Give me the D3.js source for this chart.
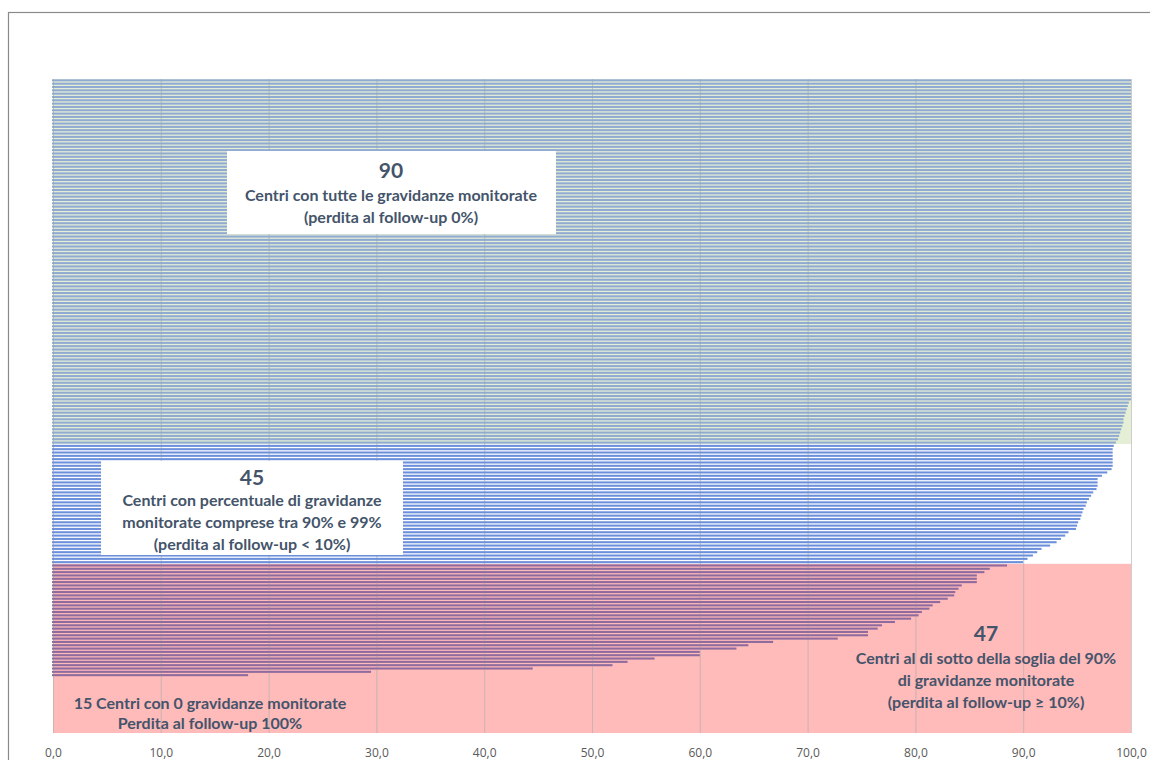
<!DOCTYPE html>
<html><head><meta charset="utf-8">
<script src="https://cdn.jsdelivr.net/npm/d3@7"></script>
<style>html,body{margin:0;padding:0;background:#fff;}svg{display:block;}</style>
</head><body>
<svg id="c" width="1150" height="760"></svg>
<script>
// ---- data (percent of pregnancies monitored per centre, sorted top to bottom) ----
const fullCount = 97;                       // centres drawn at 100%
const greenTail = [99.8, 99.7, 99.6, 99.5, 99.4, 99.3, 99.3, 99.2, 99.1, 99.0, 98.9, 98.8, 98.6];
const midValues = [98.4, 98.3, 98.3, 98.3, 98.3, 98.3, 98.3, 98.2, 97.8, 97.3, 96.9, 96.9, 96.9, 96.8,
                   96.5, 96.3, 96.1, 95.9, 95.8, 95.6, 95.5, 95.4, 95.3, 95.1, 95.0, 94.9, 94.2, 93.9,
                   93.5, 93.1, 92.5, 91.7, 91.3, 90.9, 90.4, 90.0];
const lowValues = [88.5, 86.9, 86.4, 85.7, 85.7, 85.7, 84.3, 84.0, 83.7, 83.6, 83.0, 82.3, 81.6, 81.3,
                   80.6, 80.3, 79.6, 78.1, 76.9, 76.5, 75.6, 75.6, 72.8, 66.8, 64.5, 63.4, 60.0, 60.0,
                   55.8, 53.3, 51.9, 44.5, 29.5, 18.1];
const zeroCount = 17;                       // centres with 0%
const xTicks = [0, 10, 20, 30, 40, 50, 60, 70, 80, 90, 100];
const greenLimit = 98.5, redLimit = 90;

const values = [].concat(
  Array.from({length: fullCount}, () => 100),
  greenTail, midValues, lowValues,
  Array.from({length: zeroCount}, () => 0)
);
const rows = values.map((v, i) => ({id: i, v,
  band: v >= greenLimit ? "g" : (v >= redLimit ? "w" : "r")}));

// ---- layout ----
const svg = d3.select("#c");
const L = 53, R = 1131, T = 79, B = 733;
const x = d3.scaleLinear().domain([0, 100]).range([L, R]);
const y = d3.scaleBand().domain(rows.map(d => d.id)).range([T, B]).paddingInner(0.38).paddingOuter(0.1);
const step = y.step();

// frame
svg.append("rect").attr("x", 8.5).attr("y", 12.5).attr("width", 1160).attr("height", 760)
  .attr("fill", "#fff").attr("stroke", "#8a8a8a").attr("stroke-width", 1.2);

// background bands
const bandFill = {g: "#e5efd6", w: "#ffffff", r: "#ffbaba"};
const groups = d3.groups(rows, d => d.band);
groups.forEach(([k, arr]) => {
  const first = arr[0].id, last = arr[arr.length - 1].id;
  let y0 = y(first) - step * y.paddingInner() / 2;
  let y1 = y(last) + y.bandwidth() + step * y.paddingInner() / 2;
  if (first === 0) y0 = T;
  if (last === rows.length - 1) y1 = B;
  svg.append("rect").attr("x", L).attr("y", y0).attr("width", R - L).attr("height", y1 - y0)
    .attr("fill", bandFill[k]);
});

// gridlines
svg.append("g").selectAll("line").data(xTicks).join("line")
  .attr("x1", d => x(d) + 0.5).attr("x2", d => x(d) + 0.5)
  .attr("y1", T).attr("y2", B)
  .attr("stroke", "#b8b8b8").attr("stroke-opacity", 0.55).attr("stroke-width", 1);

// bars
const barFill = {g: "#90aad2", w: "#6b8fdb", r: "#8e6b9e"};
svg.append("g").selectAll("rect").data(rows.filter(d => d.v > 0)).join("rect")
  .attr("x", x(0) - 1).attr("y", d => y(d.id))
  .attr("width", d => x(d.v) - x(0) + 1).attr("height", y.bandwidth())
  .attr("fill", d => barFill[d.band]);

// gridlines overlay (faint, as in reference)
svg.append("g").selectAll("line").data(xTicks).join("line")
  .attr("x1", d => x(d) + 0.5).attr("x2", d => x(d) + 0.5)
  .attr("y1", T).attr("y2", B)
  .attr("stroke", "#999").attr("stroke-opacity", 0.18);

// x axis
const fmt = d => d3.format(".1f")(d).replace(".", ",");
const ax = svg.append("g").attr("transform", `translate(0,${B + 12})`)
  .call(d3.axisBottom(x).tickValues(xTicks).tickFormat(fmt).tickSize(0));
ax.select(".domain").remove();
ax.selectAll("text").attr("font-family", "'Open Sans', sans-serif").attr("font-size", 12)
  .attr("fill", "#595959");

// annotations
const txtCol = "#44546a";
function block(cx, lines, box) {
  if (box) svg.append("rect").attr("x", box[0]).attr("y", box[1]).attr("width", box[2]).attr("height", box[3]).attr("fill", "#fff");
  lines.forEach(([t, yy, fs]) => {
    svg.append("text").attr("x", cx).attr("y", yy).attr("text-anchor", "middle")
      .attr("font-family", "Lato, 'Open Sans', sans-serif").attr("font-weight", "bold")
      .attr("font-size", fs).attr("fill", txtCol).text(t);
  });
}
block(391, [["90", 178, 21], ["Centri con tutte le gravidanze monitorate", 201, 16], ["(perdita al follow-up 0%)", 223, 16]],
  [227, 151, 329, 83]);
block(252, [["45", 485, 21], ["Centri con percentuale di gravidanze", 506, 16], ["monitorate comprese tra 90% e 99%", 528, 16], ["(perdita al follow-up < 10%)", 550, 16]],
  [101, 461, 302, 94]);
block(986, [["47", 641, 21], ["Centri al di sotto della soglia del 90%", 664, 16], ["di gravidanze monitorate", 686, 16], ["(perdita al follow-up ≥ 10%)", 708, 16]]);
block(210, [["15 Centri con 0 gravidanze monitorate", 709, 16], ["Perdita al follow-up 100%", 729, 16]]);
</script>
</body></html>
